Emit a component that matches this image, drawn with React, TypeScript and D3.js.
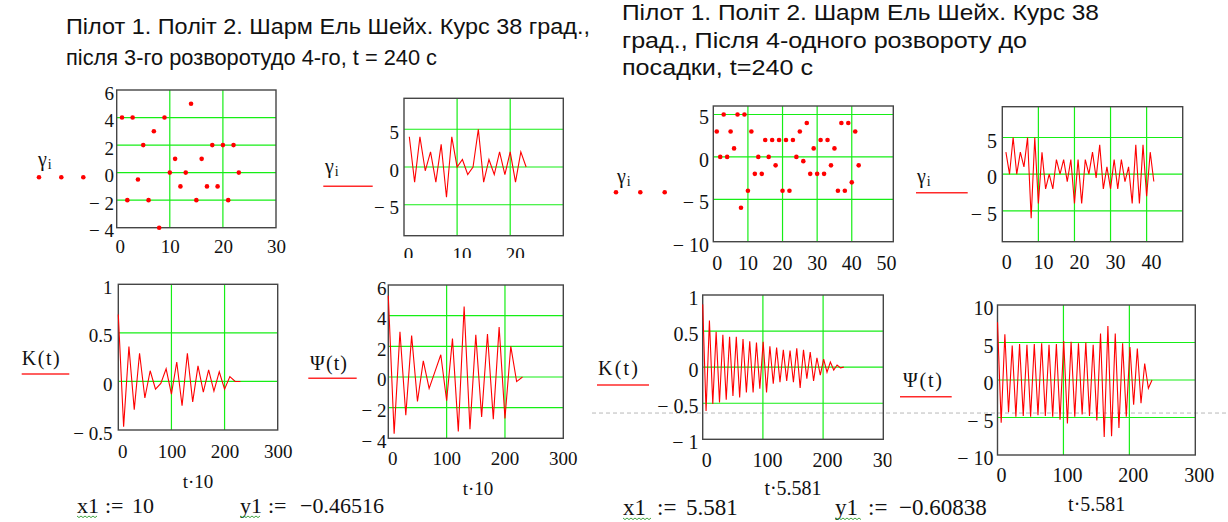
import React from "react";
import * as d3 from "d3";

// Marker readouts
const X1_A = 10;
const Y1_A = -0.46516;
const X1_B = 5.581;
const Y1_B = -0.60838;

// Time scaling factors used on the abscissa (t·10, t·5.581)
const T_SCALE_A = 10;
const T_SCALE_B = 5.581;

// γ_i, i = 1..23 — after the 3rd turn to the 4th
const GAMMA_A = [4, -2, 4, -0.5, 2, -2, 3, -4, 4, 0, 1, -1, 0, 5, -2, 1, -1, 2, -1, 2, -2, 2, 0];

// γ_i, i = 1..42 — after the 4th turn to landing
const GAMMA_B = [
  3, 0, 5, 0, 3, 1, 5, -6, 5, -4, 3, -2, 0, -2, 2, 0, 2, -1, 2, -4, 2, -4, 2, 0, 3, -0.5, 4, -2, 1, -2,
  2, -2, 2, -1, 1, -4, 4, -4, 4, -3, 3, -1,
];

// K(t), t = 0..23
const K_A = [
  0.69, Y1_A, 0.36, -0.29, 0.29, -0.17, 0.11, -0.08, -0.02, 0.13, -0.13, 0.2, -0.25, 0.29, -0.21, 0.16,
  -0.11, 0.12, -0.1, 0.1, -0.08, 0.05, 0.0, 0.0,
];

// Ψ(t), t = 0..23
const PSI_A = [
  5.3, -3.7, 2.95, -2.5, 2.7, -1.6, 1.05, -0.75, 0.35, 1.45, -1.55, 2.5, -3.55, 4.6, -3.4, 2.75, -2.6,
  2.8, -2.75, 3.25, -2.7, 2.0, -0.3, 0.0,
];

// K(t), t = 0..42
const K_B = [
  0.87, Y1_B, 0.645, -0.51, 0.49, -0.49, 0.45, -0.45, 0.42, -0.4, 0.42, -0.42, 0.39, -0.35, 0.36, -0.35,
  0.34, -0.3, 0.35, -0.35, 0.29, -0.23, 0.27, -0.21, 0.24, -0.19, 0.23, -0.21, 0.26, -0.29, 0.24, -0.16,
  0.21, -0.19, 0.13, -0.11, 0.11, -0.07, 0.07, -0.04, 0.03, -0.01, 0.0,
];

// Ψ(t), t = 0..42
const PSI_B = [
  7.7, -5.7, 6.1, -4.3, 4.6, -4.9, 4.8, -4.8, 4.7, -4.9, 4.8, -4.7, 4.9, -4.8, 4.7, -4.9, 4.8, -5.3, 5.2,
  -5.8, 5.1, -4.9, 4.9, -4.6, 5.0, -4.8, 4.7, -5.4, 6.2, -7.6, 7.2, -7.5, 6.2, -6.4, 4.9, -4.9, 4.4, -3.3,
  4.2, -3.1, 2.2, -1.1, 0.0,
];

// Tick labels and grid positions
const GAMMA_A_XTICKS = [0, 10, 20, 30];
const GAMMA_A_YTICKS = [6, 4, 2, 0, -2, -4];
const GAMMA_A_LINE_XTICKS = [0, 10, 20];
const GAMMA_A_LINE_YTICKS = [5, 0, -5];
const GAMMA_B_XTICKS = [0, 10, 20, 30, 40, 50];
const GAMMA_B_YTICKS = [5, 0, -5, -10];
const GAMMA_B_LINE_XTICKS = [0, 10, 20, 30, 40];
const GAMMA_B_LINE_YTICKS = [5, 0, -5];
const T_XTICKS = [0, 100, 200, 300];
const K_A_YTICKS = [1, 0.5, 0, -0.5];
const PSI_A_YTICKS = [6, 4, 2, 0, -2, -4];
const K_B_YTICKS = [1, 0.5, 0, -0.5, -1];
const PSI_B_YTICKS = [10, 5, 0, -5, -10];

const TITLE_A = ["Пілот 1. Політ 2. Шарм Ель Шейх. Курс 38 град.,", "після 3-го розворотудо 4-го, t = 240 с"];
const TITLE_B = ["Пілот 1. Політ 2. Шарм Ель Шейх. Курс 38", "град., Після 4-одного розвороту до", "посадки, t=240 с"];

const RED = "#ff0000";
const GRID = "#16ee16";
const FRAME = "#454545";
const SERIF = "'Liberation Serif', 'Times New Roman', serif";
const SANS = "'Liberation Sans', Arial, sans-serif";

const fmt = (v: number) => (v < 0 ? "\u2212 " + Math.abs(v) : String(v));
const fmtTight = (v: number) => (v < 0 ? "\u2212" + Math.abs(v) : String(v));

type Spec = {
  id: string;
  left: number;
  right: number;
  top: number;
  bottom: number;
  xDomain: [number, number];
  yDomain: [number, number];
  xGrid: number[];
  yGrid: number[];
  xTicks: number[];
  yTicks: number[];
  labelDx: number;
  firstDx: number;
  yLabelX: number;
  xLabelBase: number;
  fontSize: number;
  values: number[];
  start: number;
  step: number;
  kind: "dots" | "line";
  clip?: { x: number; y: number; w: number; h: number };
};

function Panel({ s }: { s: Spec }) {
  const x = d3.scaleLinear().domain(s.xDomain).range([s.left, s.right]);
  const y = d3.scaleLinear().domain(s.yDomain).range([s.bottom, s.top]);
  const pts: [number, number][] = s.values.map((v, i) => [x((i + s.start) * s.step), y(v)]);
  const path = d3.line()(pts) || "";
  const clipId = `clip-${s.id}`;
  return (
    <g>
      {s.clip && (
        <defs>
          <clipPath id={clipId}>
            <rect x={s.clip.x} y={s.clip.y} width={s.clip.w} height={s.clip.h} />
          </clipPath>
        </defs>
      )}
      {s.xGrid.map((g) => (
        <line key={"xg" + g} x1={x(g)} x2={x(g)} y1={s.top} y2={s.bottom} stroke={GRID} strokeWidth={1.2} />
      ))}
      {s.yGrid.map((g) => (
        <line key={"yg" + g} x1={s.left} x2={s.right} y1={y(g)} y2={y(g)} stroke={GRID} strokeWidth={1.2} />
      ))}
      <rect
        x={s.left}
        y={s.top}
        width={s.right - s.left}
        height={s.bottom - s.top}
        fill="none"
        stroke={FRAME}
        strokeWidth={1.4}
      />
      {s.kind === "line" ? (
        <path d={path} fill="none" stroke={RED} strokeWidth={1.1} strokeLinejoin="miter" />
      ) : (
        pts.map((p, i) => <circle key={i} cx={p[0]} cy={p[1]} r={2.3} fill={RED} />)
      )}
      <g fontFamily={SERIF} fontSize={s.fontSize} fill="#111">
        {s.yTicks.map((t) => (
          <text key={"yt" + t} x={s.yLabelX} y={y(t) + s.fontSize * 0.5} textAnchor="end" xmlSpace="preserve">
            {fmt(t)}
          </text>
        ))}
        <g clipPath={s.clip ? `url(#${clipId})` : undefined}>
          {s.xTicks.map((t, i) => (
            <text key={"xt" + t} x={x(t) + (i === 0 ? s.firstDx : s.labelDx)} y={s.xLabelBase} textAnchor="middle">
              {fmt(t)}
            </text>
          ))}
        </g>
      </g>
    </g>
  );
}

function GammaLabel({ x, y }: { x: number; y: number }) {
  return (
    <text x={x} y={y} fontFamily={SERIF} fontSize={20} fill="#111">
      γ
      <tspan fontSize={14} dy={3} dx={1}>
        i
      </tspan>
    </text>
  );
}

function DotsKey({ x, y }: { x: number[]; y: number }) {
  return (
    <g>
      {x.map((cx) => (
        <circle key={cx} cx={cx} cy={y} r={2.3} fill={RED} />
      ))}
    </g>
  );
}

function LineKey({ x1, x2, y }: { x1: number; x2: number; y: number }) {
  return <line x1={x1} x2={x2} y1={y} y2={y} stroke="#ff2a2a" strokeWidth={1.5} />;
}

function Squiggle({ x, y, w }: { x: number; y: number; w: number }) {
  const n = Math.floor(w / 2);
  const pts: [number, number][] = d3.range(n + 1).map((i) => [x + i * 2, y + (i % 2 === 0 ? 0 : 1.6)]);
  return <path d={d3.line()(pts) || ""} fill="none" stroke="#2c9a2c" strokeWidth={0.9} />;
}

// "name := value" definition as laid out in the worksheet
function Definition({
  name, value, x, y, size, gap1, gap2,
}: { name: string; value: string; x: number; y: number; size: number; gap1: number; gap2: number }) {
  return (
    <g fontFamily={SERIF} fontSize={size} fill="#111">
      <text x={x} y={y}>{name}</text>
      <text x={x + gap1} y={y}>:=</text>
      <text x={x + gap2} y={y}>{value}</text>
    </g>
  );
}

export default function App() {
  const specs: Spec[] = [
    {
      id: "ga",
      left: 116.7, right: 276, top: 90, bottom: 227.7,
      xDomain: [0, 30], yDomain: [-4, 6],
      xGrid: [10, 20], yGrid: [-2, 0, 2, 4],
      xTicks: GAMMA_A_XTICKS, yTicks: GAMMA_A_YTICKS,
      labelDx: 0.5, firstDx: 3.5, yLabelX: 114, xLabelBase: 253, fontSize: 19,
      values: GAMMA_A, start: 1, step: 1, kind: "dots",
    },
    {
      id: "gal",
      left: 404, right: 563.3, top: 98.3, bottom: 235.7,
      xDomain: [0, 30], yDomain: [-9.1, 9.1],
      xGrid: [10, 20], yGrid: [-5, 0, 5],
      xTicks: GAMMA_A_LINE_XTICKS, yTicks: GAMMA_A_LINE_YTICKS,
      labelDx: 5, firstDx: 4.5, yLabelX: 399, xLabelBase: 261, fontSize: 19,
      values: GAMMA_A, start: 1, step: 1, kind: "line",
      clip: { x: 380, y: 238, w: 200, h: 20 },
    },
    {
      id: "ka",
      left: 118.3, right: 277.7, top: 284.3, bottom: 430,
      xDomain: [0, 300], yDomain: [-0.5, 1],
      xGrid: [100, 200], yGrid: [0, 0.5],
      xTicks: T_XTICKS, yTicks: K_A_YTICKS,
      labelDx: 0.5, firstDx: 4.5, yLabelX: 112.5, xLabelBase: 458, fontSize: 19,
      values: K_A, start: 0, step: T_SCALE_A, kind: "line",
    },
    {
      id: "pa",
      left: 388.3, right: 563.3, top: 285, bottom: 438.3,
      xDomain: [0, 300], yDomain: [-4, 6],
      xGrid: [100, 200], yGrid: [-2, 0, 2, 4],
      xTicks: T_XTICKS, yTicks: PSI_A_YTICKS,
      labelDx: 0, firstDx: 4.5, yLabelX: 386.5, xLabelBase: 465, fontSize: 19,
      values: PSI_A, start: 0, step: T_SCALE_A, kind: "line",
    },
    {
      id: "gb",
      left: 713.3, right: 893.3, top: 106, bottom: 241.7,
      xDomain: [0, 52], yDomain: [-10, 6],
      xGrid: [10, 20, 30, 40], yGrid: [-5, 0, 5],
      xTicks: GAMMA_B_XTICKS, yTicks: GAMMA_B_YTICKS,
      labelDx: 0, firstDx: 4, yLabelX: 709, xLabelBase: 270, fontSize: 20,
      values: GAMMA_B, start: 1, step: 1, kind: "dots",
    },
    {
      id: "gbl",
      left: 1002.3, right: 1182.7, top: 106.7, bottom: 241.7,
      xDomain: [0, 50], yDomain: [-9.2, 9.2],
      xGrid: [10, 20, 30, 40], yGrid: [-5, 0, 5],
      xTicks: GAMMA_B_LINE_XTICKS, yTicks: GAMMA_B_LINE_YTICKS,
      labelDx: 5, firstDx: 4.5, yLabelX: 997, xLabelBase: 268.5, fontSize: 20,
      values: GAMMA_B, start: 1, step: 1, kind: "line",
    },
    {
      id: "kb",
      left: 702.7, right: 883.3, top: 295, bottom: 439.3,
      xDomain: [0, 300], yDomain: [-1, 1],
      xGrid: [100, 200], yGrid: [-0.5, 0, 0.5],
      xTicks: T_XTICKS, yTicks: K_B_YTICKS,
      labelDx: 4.5, firstDx: 4, yLabelX: 698.5, xLabelBase: 467, fontSize: 20,
      values: K_B, start: 0, step: T_SCALE_B, kind: "line",
      clip: { x: 690, y: 440, w: 201.5, h: 40 },
    },
    {
      id: "pb",
      left: 997.5, right: 1195.3, top: 305, bottom: 455,
      xDomain: [0, 300], yDomain: [-10, 10],
      xGrid: [100, 200], yGrid: [-5, 0, 5],
      xTicks: T_XTICKS, yTicks: PSI_B_YTICKS,
      labelDx: 4, firstDx: 4, yLabelX: 993.5, xLabelBase: 482, fontSize: 20,
      values: PSI_B, start: 0, step: T_SCALE_B, kind: "line",
    },
  ];

  const kb = specs[6];
  const yKB = d3.scaleLinear().domain(kb.yDomain).range([kb.bottom, kb.top]);

  return (
    <svg
      width={1228}
      height={522}
      viewBox="0 0 1228 522"
      style={{ position: "absolute", left: 0, top: 0, background: "#fff" }}
    >
      <rect x={0} y={0} width={1228} height={522} fill="#fff" />

      {/* titles */}
      <g fontFamily={SANS} fill="#111">
        <text x={66} y={34} fontSize={22} textLength={524} lengthAdjust="spacingAndGlyphs">
          {TITLE_A[0]}
        </text>
        <text x={66} y={65} fontSize={22} textLength={371} lengthAdjust="spacingAndGlyphs">
          {TITLE_A[1]}
        </text>
        <text x={622} y={20} fontSize={22} textLength={477} lengthAdjust="spacingAndGlyphs">
          {TITLE_B[0]}
        </text>
        <text x={622} y={48} fontSize={22} textLength={405} lengthAdjust="spacingAndGlyphs">
          {TITLE_B[1]}
        </text>
        <text x={622} y={75} fontSize={22} textLength={191} lengthAdjust="spacingAndGlyphs">
          {TITLE_B[2]}
        </text>
      </g>

      {/* y1 marker of the right K(t) trace */}
      <line
        x1={592}
        x2={1228}
        y1={yKB(Y1_B) + 2}
        y2={yKB(Y1_B) + 2}
        stroke="#b8b8b8"
        strokeWidth={1}
        strokeDasharray="4,3"
      />

      {specs.map((s) => (
        <Panel key={s.id} s={s} />
      ))}

      {/* trace keys */}
      <GammaLabel x={38} y={166} />
      <DotsKey x={[39, 61.3, 83.3]} y={177.3} />
      <GammaLabel x={325} y={173} />
      <LineKey x1={323.3} x2={372.7} y={186.3} />
      <GammaLabel x={617} y={183} />
      <DotsKey x={[616, 640.3, 664.7]} y={192.3} />
      <GammaLabel x={917} y={183} />
      <LineKey x1={916} x2={967.7} y={192.7} />

      <g fontFamily={SERIF} fontSize={20} fill="#111">
        <text x={21.7} y={364.5} textLength={38} lengthAdjust="spacing">K(t)</text>
        <text x={310} y={370} textLength={37} lengthAdjust="spacing">Ψ(t)</text>
        <text x={598} y={375} textLength={40} lengthAdjust="spacing">K(t)</text>
        <text x={903} y={386.5} textLength={39} lengthAdjust="spacing">Ψ(t)</text>
      </g>
      <LineKey x1={21.7} x2={69.3} y={374} />
      <LineKey x1={308.3} x2={356.7} y={378.3} />
      <LineKey x1={597} x2={649} y={385} />
      <LineKey x1={900} x2={951.7} y={396.7} />

      {/* abscissa names */}
      <g fontFamily={SERIF} fill="#111" textAnchor="middle">
        <text x={198} y={488} fontSize={19}>{`t·${T_SCALE_A}`}</text>
        <text x={478} y={494.5} fontSize={19}>{`t·${T_SCALE_A}`}</text>
        <text x={793} y={494.5} fontSize={20}>{`t·${T_SCALE_B}`}</text>
        <text x={1096.7} y={510.5} fontSize={20}>{`t·${T_SCALE_B}`}</text>
      </g>

      {/* marker definitions */}
      <Definition name="x1" value={String(X1_A)} x={77} y={513} size={22} gap1={28} gap2={55} />
      <Definition name="y1" value={fmtTight(Y1_A)} x={240} y={513} size={22} gap1={28} gap2={60} />
      <Definition name="x1" value={String(X1_B)} x={623} y={515} size={23} gap1={34} gap2={63} />
      <Definition name="y1" value={fmtTight(Y1_B)} x={835} y={515} size={23} gap1={33} gap2={64} />
      <Squiggle x={77} y={516} w={20} />
      <Squiggle x={240} y={516} w={20} />
      <Squiggle x={623} y={518} w={28} />
      <Squiggle x={835} y={518} w={26} />
    </svg>
  );
}
